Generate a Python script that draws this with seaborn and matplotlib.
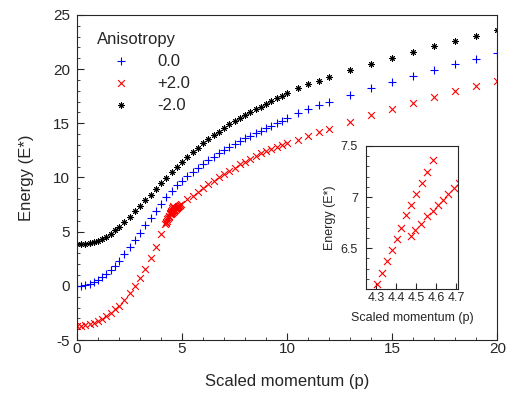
import numpy as np
import pandas as pd
import matplotlib
matplotlib.use("Agg")
import matplotlib.pyplot as plt
import seaborn as sns

# scaled momentum grid used by the 0.0 and -2.0 curves
p_grid = [0, 0.2, 0.4, 0.6, 0.8, 1.0, 1.2, 1.4, 1.6, 1.8, 2.0,
          2.25, 2.5, 2.75, 3.0, 3.25, 3.5, 3.75, 4.0, 4.25, 4.5, 4.75, 5.0,
          5.25, 5.5, 5.75, 6.0, 6.25, 6.5, 6.75, 7.0, 7.25, 7.5, 7.75, 8.0,
          8.25, 8.5, 8.75, 9.0, 9.25, 9.5, 9.75, 10.0,
          10.5, 11.0, 11.5, 12.0, 13, 14, 15, 16, 17, 18, 19, 20]

# anisotropy 0.0
e_zero = [0.0, 0.02, 0.08, 0.19, 0.35, 0.55, 0.79, 1.07, 1.42, 1.85, 2.3,
          2.9, 3.55, 4.22, 4.92, 5.62, 6.3, 6.95, 7.58, 8.2, 8.78, 9.28, 9.72,
          10.13, 10.52, 10.9, 11.25, 11.6, 11.93, 12.25, 12.55, 12.83, 13.1, 13.35, 13.6,
          13.84, 14.08, 14.31, 14.54, 14.77, 15.0, 15.23, 15.45,
          15.92, 16.33, 16.67, 17.0, 17.62, 18.24, 18.84, 19.38, 19.92, 20.45, 20.95, 21.45]

# anisotropy -2.0
e_minus = [3.85, 3.86, 3.89, 3.95, 4.04, 4.16, 4.33, 4.55, 4.82, 5.12, 5.45,
           5.9, 6.38, 6.88, 7.38, 7.89, 8.4, 8.93, 9.46, 9.98, 10.48, 10.96, 11.43,
           11.88, 12.32, 12.74, 13.14, 13.52, 13.89, 14.24, 14.58, 14.9, 15.2, 15.49, 15.77,
           16.04, 16.3, 16.55, 16.8, 17.05, 17.3, 17.55, 17.8,
           18.22, 18.6, 18.93, 19.25, 19.9, 20.52, 21.07, 21.6, 22.12, 22.62, 23.1, 23.6]

# anisotropy +2.0 (two branches near p ~ 4.5)
p_plus = [0, 0.2, 0.4, 0.6, 0.8, 1.0, 1.2, 1.4, 1.6, 1.8, 2.0,
          2.25, 2.5, 2.75, 3.0, 3.25, 3.5, 3.75, 4.0,
          4.2, 4.226, 4.252, 4.277, 4.303, 4.328, 4.355, 4.378, 4.403, 4.425,
          4.452, 4.475, 4.5, 4.53, 4.556, 4.584,
          4.473, 4.495, 4.523, 4.554, 4.583, 4.61, 4.636, 4.662, 4.69, 4.716,
          4.742, 4.768, 4.794, 4.82, 4.846, 4.872, 4.898, 4.924, 4.95,
          5.25, 5.5, 5.75, 6.0, 6.25, 6.5, 6.75, 7.0, 7.25, 7.5, 7.75, 8.0,
          8.25, 8.5, 8.75, 9.0, 9.25, 9.5, 9.75, 10.0,
          10.5, 11.0, 11.5, 12.0, 13, 14, 15, 16, 17, 18, 19, 20]
e_plus = [-3.7, -3.68, -3.62, -3.53, -3.4, -3.23, -3.02, -2.78, -2.5, -2.18, -1.82,
          -1.3, -0.7, -0.02, 0.75, 1.6, 2.55, 3.6, 4.75,
          5.7, 5.81, 5.92, 6.03, 6.15, 6.26, 6.37, 6.48, 6.59, 6.7,
          6.82, 6.92, 7.03, 7.14, 7.25, 7.36,
          6.62, 6.68, 6.74, 6.81, 6.86, 6.92, 6.97, 7.03, 7.09, 7.14,
          7.19, 7.24, 7.28, 7.33, 7.37, 7.41, 7.45, 7.49, 7.53,
          7.98, 8.33, 8.68, 9.03, 9.38, 9.72, 10.04, 10.35, 10.64, 10.92, 11.2, 11.47,
          11.74, 11.98, 12.22, 12.45, 12.63, 12.82, 13.0, 13.17,
          13.5, 13.86, 14.18, 14.52, 15.15, 15.77, 16.36, 16.88, 17.44, 17.96, 18.43, 18.92]

sns.set_style("ticks")
plt.rcParams['font.family'] = ['Liberation Sans', 'DejaVu Sans']
plt.rcParams['axes.unicode_minus'] = False
plt.rcParams['xtick.direction'] = 'in'
plt.rcParams['ytick.direction'] = 'in'

asterisk = (8, 2, 0)
series = [
    ("0.0", p_grid, e_zero, "+", "#0000ff", 30, 0.8),
    ("+2.0", p_plus, e_plus, "x", "#ff0000", 24, 0.8),
    ("-2.0", p_grid, e_minus, asterisk, "black", 16, 0.7),
]

fig = plt.figure(figsize=(5.1, 3.94), dpi=100)
ax = fig.add_axes([0.151, 0.137, 0.824, 0.825])

for name, p, e, mk, col, size, lw in series:
    sns.scatterplot(x=p, y=e, marker=mk, color=col, s=size, linewidth=lw,
                    label=name, ax=ax)

ax.set_xlim(0, 20)
ax.set_ylim(-5, 25)
ax.set_xticks([0, 5, 10, 15, 20])
ax.set_yticks([-5, 0, 5, 10, 15, 20, 25])
ax.set_xticks(np.arange(0, 21, 1), minor=True)
ax.set_yticks(np.arange(-5, 26, 1), minor=True)
ax.tick_params(which='major', length=5, width=0.8, labelsize=11)
ax.tick_params(axis='x', which='major', pad=1.5)
ax.tick_params(axis='y', which='major', pad=5)
ax.tick_params(which='minor', length=2.5, width=0.6)
ax.set_xlabel("Scaled momentum (p)", fontsize=12, labelpad=13)
ax.set_ylabel("Energy (E*)", fontsize=12, labelpad=14)
for s in ax.spines.values():
    s.set_linewidth(0.8)

ax.legend(title="Anisotropy", frameon=False, loc='upper left',
          bbox_to_anchor=(0.19, 0.92), bbox_transform=fig.transFigure,
          borderpad=0, borderaxespad=0, handlelength=2.9, handletextpad=0.75,
          labelspacing=0.42, fontsize=12, title_fontsize=12, alignment='left')

# inset around the avoided crossing
ins = fig.add_axes([0.718, 0.2665, 0.180, 0.363])
sns.scatterplot(x=p_plus, y=e_plus, marker="x", color="#ff0000", s=26,
                linewidth=0.8, ax=ins, legend=False)
ins.set_xlim(4.25, 4.71)
ins.set_ylim(6.1, 7.5)
ins.set_xticks([4.3, 4.4, 4.5, 4.6, 4.7])
ins.set_yticks([6.5, 7.0, 7.5])
ins.set_yticks(np.arange(6.1, 7.51, 0.1), minor=True)
ins.yaxis.set_major_formatter(matplotlib.ticker.FormatStrFormatter('%g'))
ins.tick_params(which='major', length=4, width=0.8, labelsize=9)
ins.tick_params(axis='x', which='major', pad=2)
ins.tick_params(axis='y', which='major', pad=6)
ins.tick_params(which='minor', length=2, width=0.6)
ins.set_xlabel("Scaled momentum (p)", fontsize=9, labelpad=6)
ins.set_ylabel("Energy (E*)", fontsize=9, labelpad=3)
for s in ins.spines.values():
    s.set_linewidth(0.8)

fig.savefig("out.png", dpi=100)
